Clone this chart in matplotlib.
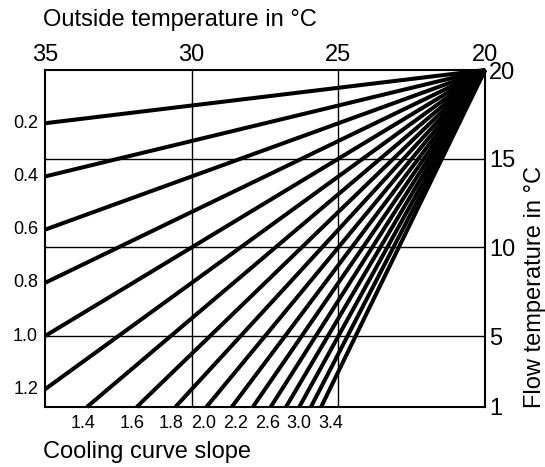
import numpy as np
import matplotlib
matplotlib.use("Agg")
import matplotlib.pyplot as plt

plt.rcParams['font.family'] = ['Liberation Sans', 'DejaVu Sans']

# Cooling curve slopes and axis ticks
slopes = [0.2, 0.4, 0.6, 0.8, 1.0, 1.2, 1.4, 1.6, 1.8, 2.0, 2.2, 2.4, 2.6, 2.8, 3.0, 3.2, 3.4]
left_labels = [0.2, 0.4, 0.6, 0.8, 1.0, 1.2]
bottom_labels = [1.4, 1.6, 1.8, 2.0, 2.2, 2.6, 3.0, 3.4]
outside_ticks = [35, 30, 25, 20]
flow_ticks = [20, 15, 10, 5, 1]

base_temp = 20.0   # curves meet at 20 °C outside / 20 °C flow
t_max = 35.0
flow_min = 1.0

fig = plt.figure(figsize=(5.45, 4.67), dpi=100)
ax = fig.add_axes([0.0826, 0.1285, 0.8074, 0.7215])

ax.set_xlim(t_max, base_temp)
ax.set_ylim(flow_min, base_temp)

# grid lines
for t in [30, 25]:
    ax.axvline(t, color='black', lw=1.0, zorder=1)
for f in [15, 10, 5]:
    ax.axhline(f, color='black', lw=1.0, zorder=1)

# cooling curves
for s in slopes:
    t_end = min(t_max, base_temp + (base_temp - flow_min) / s)
    t = np.array([base_temp, t_end])
    f = base_temp - s * (t - base_temp)
    ax.plot(t, f, color='black', lw=2.9, solid_capstyle='butt', zorder=3, clip_on=False)

for sp in ax.spines.values():
    sp.set_linewidth(1.5)
    sp.set_color('black')

ax.xaxis.tick_top()
ax.set_xticks(outside_ticks)
ax.set_xticklabels([str(v) for v in outside_ticks])
ax.yaxis.tick_right()
ax.set_yticks(flow_ticks)
ax.set_yticklabels([str(v) for v in flow_ticks])
ax.tick_params(axis='x', length=0, pad=3, labelsize=17)
ax.tick_params(axis='y', length=0, pad=3, labelsize=17)

# slope labels on the left edge
for s in left_labels:
    f = base_temp - s * (t_max - base_temp)
    ax.annotate(f"{s:.1f}", xy=(t_max, f), xytext=(-5, 0), textcoords='offset points',
                ha='right', va='center', fontsize=13)

# slope labels along the bottom edge: placed at the curve ends, spread apart so they don't collide
gap = 1.09  # minimum spacing in °C
label_t = []
for s in bottom_labels:
    t = base_temp + (base_temp - flow_min) / s
    if label_t:
        t = min(t, label_t[-1] - gap)
    label_t.append(t)
for s, t in zip(bottom_labels, label_t):
    ax.annotate(f"{s:.1f}", xy=(t, flow_min), xytext=(-3, -6), textcoords='offset points',
                ha='center', va='top', fontsize=13)

fig.text(0.079, 0.957, "Outside temperature in °C", ha='left', va='center', fontsize=17)
fig.text(0.079, 0.032, "Cooling curve slope", ha='left', va='center', fontsize=17)
fig.text(0.982, 0.385, "Flow temperature in °C", ha='center', va='center', rotation=90, fontsize=17)

fig.savefig("out.png", dpi=100)
